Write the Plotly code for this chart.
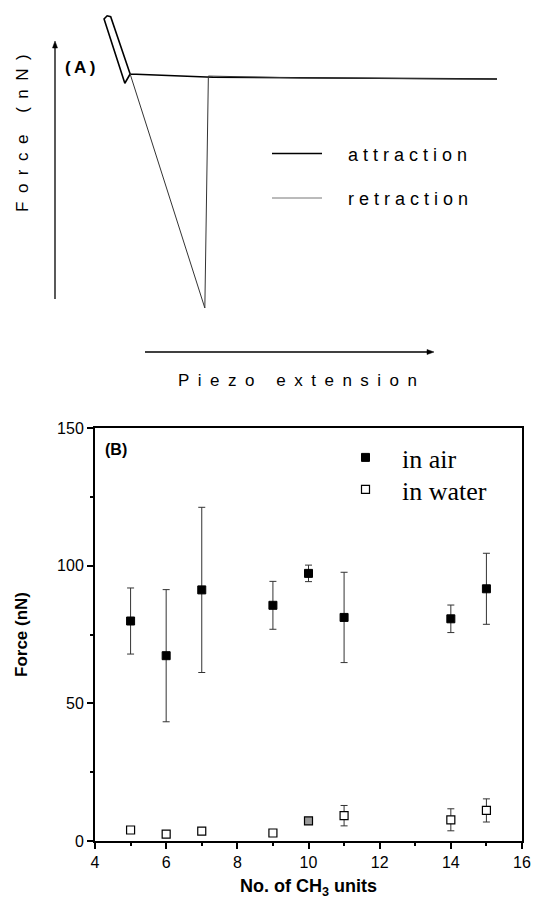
import plotly.graph_objects as go

# ---------------- Panel (A): schematic force curve (arbitrary units) ----------------
# x: piezo extension (0-100 %), y: force (arbitrary units, 0 = baseline)
attraction_x = [100, 55.4, 35.7, 17.0, 12.6, 11.8, 11.1, 15.8, 17.0]
attraction_y = [-0.9, -0.4, -0.1, 1.3, 26.1, 26.5, 25.1, -2.7, 1.3]
retraction_x = [17.0, 33.9, 34.7, 55.4, 100]
retraction_y = [1.3, -100, 0.4, -0.4, -0.9]
legend_a_labels = ["a t t r a c t i o n", "r e t r a c t i o n"]

# ---------------- Panel (B): adhesion force vs chain length ----------------
ch2_units = [5, 6, 7, 9, 10, 11, 14, 15]
force_air = [79.9, 67.3, 91.2, 85.6, 97.2, 81.2, 80.7, 91.6]
force_air_err = [12.0, 24.0, 30.0, 8.7, 3.0, 16.4, 5.0, 12.9]
force_water = [4.0, 2.5, 3.6, 2.9, 7.3, 9.2, 7.7, 11.1]
force_water_err = [0, 0, 0, 0, 0, 3.7, 4.0, 4.2]
water_fill = ["white", "white", "white", "white", "#9a9a9a", "white", "white", "white"]

W, H = 533, 899
def px(xp):
    return xp / W
def py(yp):
    return 1 - yp / H

SANS = "Liberation Sans, Arial, sans-serif"
SERIF = "Liberation Serif, Times New Roman, serif"

fig = go.Figure()

# Panel A curves
fig.add_trace(go.Scatter(x=attraction_x, y=attraction_y, mode="lines",
                         line=dict(color="black", width=1.6),
                         xaxis="x2", yaxis="y2", showlegend=False, hoverinfo="skip"))
fig.add_trace(go.Scatter(x=retraction_x, y=retraction_y, mode="lines",
                         line=dict(color="#333333", width=1),
                         xaxis="x2", yaxis="y2", showlegend=False, hoverinfo="skip"))

# Panel B data
fig.add_trace(go.Scatter(
    x=ch2_units, y=force_air, mode="markers", name="in air", legend="legend",
    marker=dict(symbol="square", size=8, color="black", line=dict(color="black", width=1)),
    error_y=dict(type="data", array=force_air_err, visible=True, color="#333333",
                 thickness=1, width=3.5),
    xaxis="x", yaxis="y"))
fig.add_trace(go.Scatter(
    x=ch2_units, y=force_water, mode="markers", name="in water", legend="legend2",
    marker=dict(symbol="square", size=8, color=water_fill, line=dict(color="black", width=1.2)),
    error_y=dict(type="data", array=force_water_err, visible=True, color="#333333",
                 thickness=1, width=3.5),
    xaxis="x", yaxis="y"))

annotations = [
    # Panel A labels
    dict(text="<b>(\u2009A\u2009)</b>", x=px(63), y=py(67), xref="paper", yref="paper",
         xanchor="left", yanchor="middle", showarrow=False,
         font=dict(family=SANS, size=17, color="black")),
    dict(text="F\u2002o\u2002r\u2002c\u2002e\u2002 \u2002(\u2002n\u2002N\u2002)",
         x=px(23), y=py(133), xref="paper", yref="paper",
         xanchor="center", yanchor="middle", textangle=-90, showarrow=False,
         font=dict(family=SANS, size=17, color="black")),
    dict(text="P\u2002i\u2002e\u2002z\u2002o\u2002 \u2002e\u2002x\u2002t\u2002e\u2002n\u2002s\u2002i\u2002o\u2002n",
         x=px(297.5), y=py(380), xref="paper", yref="paper",
         xanchor="center", yanchor="middle", showarrow=False,
         font=dict(family=SANS, size=17, color="black")),
    dict(text=legend_a_labels[0], x=px(346), y=py(155), xref="paper", yref="paper",
         xanchor="left", yanchor="middle", showarrow=False,
         font=dict(family=SANS, size=18, color="black")),
    dict(text=legend_a_labels[1], x=px(346), y=py(199), xref="paper", yref="paper",
         xanchor="left", yanchor="middle", showarrow=False,
         font=dict(family=SANS, size=18, color="black")),
    # Panel B label
    dict(text="<b>(B)</b>", x=px(103), y=py(449), xref="paper", yref="paper",
         xanchor="left", yanchor="middle", showarrow=False,
         font=dict(family=SANS, size=16, color="black")),
]

def arrow_head_up(xc, ytip, length=7, half=2.5):
    return (f"M {px(xc)} {py(ytip)} L {px(xc - half)} {py(ytip + length)} "
            f"L {px(xc + half)} {py(ytip + length)} Z")

def arrow_head_right(xtip, yc, length=7, half=2.5):
    return (f"M {px(xtip)} {py(yc)} L {px(xtip - length)} {py(yc - half)} "
            f"L {px(xtip - length)} {py(yc + half)} Z")

shapes = [
    # Panel A legend samples
    dict(type="line", xref="paper", yref="paper", x0=px(272), x1=px(322), y0=py(153.5), y1=py(153.5),
         line=dict(color="black", width=1.6)),
    dict(type="line", xref="paper", yref="paper", x0=px(272), x1=px(322), y0=py(198), y1=py(198),
         line=dict(color="#777777", width=1)),
    # Panel A axis arrows
    dict(type="line", xref="paper", yref="paper", x0=px(55), x1=px(55), y0=py(299), y1=py(46),
         line=dict(color="black", width=1.3)),
    dict(type="path", xref="paper", yref="paper", path=arrow_head_up(55, 41),
         fillcolor="black", line=dict(color="black", width=0.5)),
    dict(type="line", xref="paper", yref="paper", x0=px(145), x1=px(429), y0=py(352), y1=py(352),
         line=dict(color="black", width=1.3)),
    dict(type="path", xref="paper", yref="paper", path=arrow_head_right(434, 352),
         fillcolor="black", line=dict(color="black", width=0.5)),
]

axis_font = dict(family=SANS, size=16, color="black")
legend_font = dict(family=SERIF, size=26, color="black")

fig.update_layout(
    width=W, height=H,
    margin=dict(l=0, r=0, t=0, b=0, autoexpand=False),
    paper_bgcolor="white", plot_bgcolor="white",
    showlegend=True,
    legend=dict(x=px(329), y=py(434), xanchor="left", yanchor="top",
                font=legend_font, bgcolor="rgba(0,0,0,0)", itemwidth=63),
    legend2=dict(x=px(329), y=py(466), xanchor="left", yanchor="top",
                 font=legend_font, bgcolor="rgba(0,0,0,0)", itemwidth=63),
    xaxis=dict(domain=[px(95), px(522)], range=[4, 16], dtick=2, tick0=4,
               showline=True, linecolor="black", linewidth=2, mirror=True,
               ticks="outside", ticklen=6, tickwidth=1.5, tickcolor="black",
               minor=dict(ticks="outside", ticklen=3, tickwidth=1.5, dtick=1, tickcolor="black"),
               showgrid=False, zeroline=False, tickfont=axis_font, automargin=False,
               title=dict(text="<b>No. of CH<sub>3</sub> units</b>", standoff=24,
                          font=dict(family=SANS, size=18, color="black")),
               anchor="y"),
    yaxis=dict(domain=[py(841), py(428)], range=[0, 150], dtick=50, tick0=0,
               showline=True, linecolor="black", linewidth=2, mirror=True,
               ticks="outside", ticklen=6, tickwidth=1.5, tickcolor="black",
               minor=dict(ticks="outside", ticklen=3, tickwidth=1.5, dtick=25, tickcolor="black"),
               showgrid=False, zeroline=False, tickfont=axis_font, automargin=False,
               title=dict(text="<b>Force (nN)</b>", standoff=25,
                          font=dict(family=SANS, size=17, color="black")),
               anchor="x"),
    xaxis2=dict(domain=[px(55), px(497)], range=[0, 100], visible=False, anchor="y2",
                showgrid=False, zeroline=False, automargin=False),
    yaxis2=dict(domain=[py(308), py(10)], range=[-100, 29.0], visible=False, anchor="x2",
                showgrid=False, zeroline=False, automargin=False),
    annotations=annotations,
    shapes=shapes,
)

fig.write_html("out.html", config={"displayModeBar": False},
               post_script="document.body.style.margin='0px';")
